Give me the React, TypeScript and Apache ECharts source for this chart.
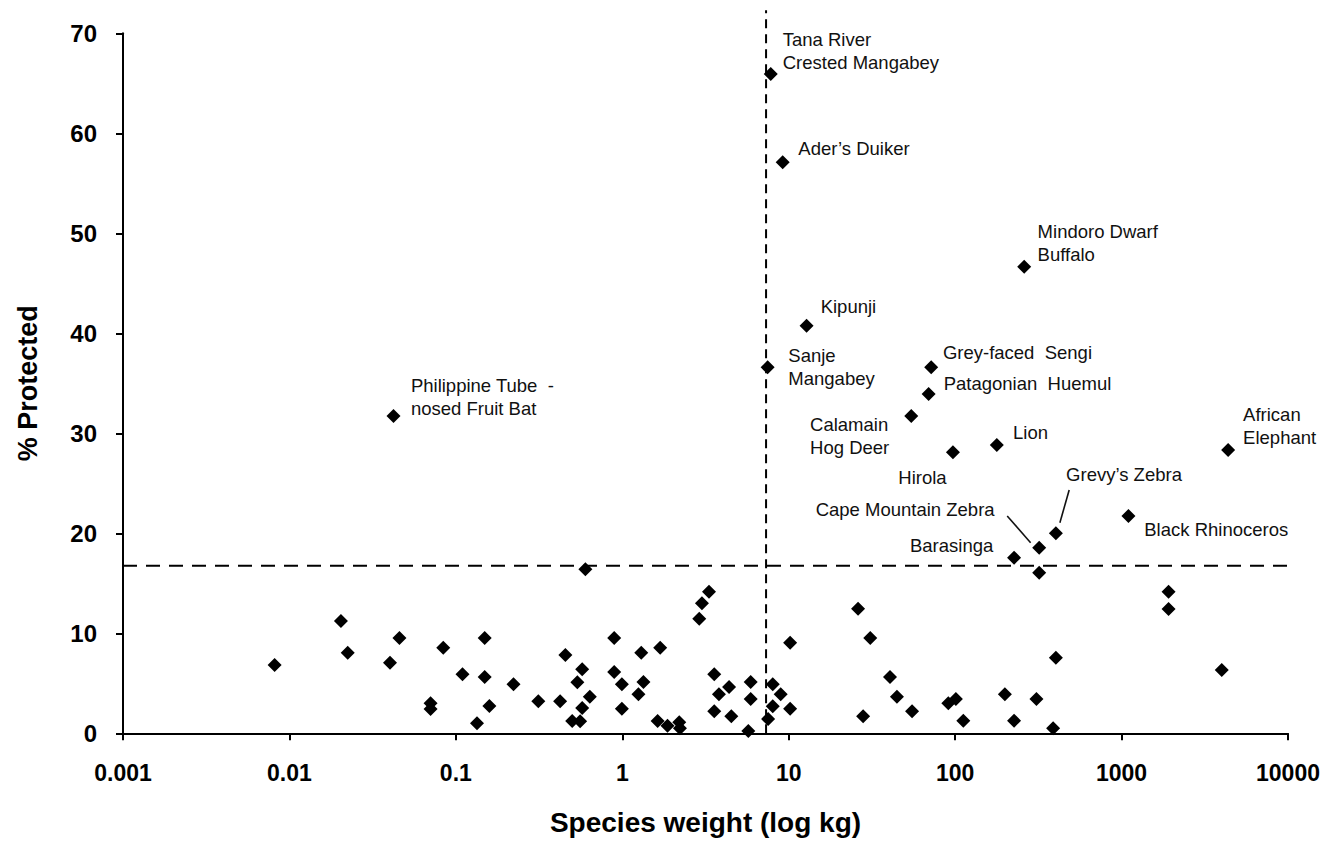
import React, { useEffect, useRef } from "react";
import * as echarts from "echarts";

// ---- tick labels ----
const xTickLabels = ["0.001", "0.01", "0.1", "1", "10", "100", "1000", "10000"];

// ---- unlabelled species (weight kg, % protected) ----
const otherWeights = [
  0.00815, 0.0204, 0.0224, 0.0458, 0.0402, 0.084, 0.1096, 0.149, 0.149, 0.222,
  0.0705, 0.0705, 0.159, 0.134, 0.6, 3.32, 3.01, 2.9, 26.1, 30.9,
  10.2, 0.894, 0.455, 1.3, 1.69, 0.574, 0.537, 0.894, 0.994, 1.34,
  1.25, 0.994, 0.313, 0.423, 0.638, 0.574, 0.5, 0.558, 1.63, 1.87,
  2.2, 2.22, 3.57, 3.81, 4.38, 3.57, 4.52, 5.91, 5.91, 5.72,
  8.02, 8.95, 8.02, 10.2, 7.52, 40.6, 44.7, 55.1, 28.0, 320,
  1916, 1916, 403, 4000, 199, 308, 91, 101, 112, 226,
  388,
];
const otherProtected = [
  6.83, 11.23, 8.06, 9.53, 7.06, 8.56, 5.9, 9.53, 5.63, 4.9,
  3.0, 2.43, 2.73, 1.0, 16.4, 14.16, 13.0, 11.46, 12.46, 9.53,
  9.06, 9.53, 7.83, 8.06, 8.56, 6.4, 5.1, 6.13, 4.9, 5.13,
  3.9, 2.46, 3.2, 3.2, 3.66, 2.53, 1.23, 1.2, 1.23, 0.76,
  1.1, 0.5, 5.9, 3.9, 4.63, 2.2, 1.7, 5.13, 3.43, 0.23,
  4.9, 3.9, 2.7, 2.46, 1.43, 5.63, 3.66, 2.2, 1.7, 16.06,
  14.16, 12.43, 7.56, 6.33, 3.9, 3.43, 3.0, 3.43, 1.26, 1.26,
  0.5,
];

// ---- labelled species ----
const namedSpecies = [
  "Tana River\nCrested Mangabey",
  "Ader\u2019s Duiker",
  "Mindoro Dwarf\nBuffalo",
  "Kipunji",
  "Sanje\nMangabey",
  "Grey-faced  Sengi",
  "Patagonian  Huemul",
  "Calamain\nHog Deer",
  "Lion",
  "Hirola",
  "African\nElephant",
  "Grevy\u2019s Zebra",
  "Cape Mountain Zebra",
  "Black Rhinoceros",
  "Barasinga",
  "Philippine Tube  -\nnosed Fruit Bat",
];
const namedWeights = [7.8, 9.2, 260, 12.8, 7.47, 71.8, 69.3, 54.5, 178, 97, 4366, 403, 320, 1100, 226, 0.0422];
const namedProtected = [65.93, 57.1, 46.66, 40.76, 36.6, 36.6, 33.93, 31.73, 28.83, 28.1, 28.33, 20.0, 18.56, 21.73, 17.56, 31.73];

// ---- thresholds ----
const weightThreshold = 7.31;
const protectedThreshold = 16.76;
const vLineExtent = [0, 72.3];
const hLineExtent = [0.001, 12600];

// ---- label placement (pixel offsets from marker centre) ----
const labelLayout: [number, number, string][] = [
  [12, -23, "left"],
  [15.6, -14, "left"],
  [13.4, -23.7, "left"],
  [14.1, -19.7, "left"],
  [20.7, -0.6, "left"],
  [11.7, -15, "left"],
  [15, -10.7, "left"],
  [-101.2, 20, "left"],
  [16.2, -12.3, "left"],
  [-54.6, 25, "left"],
  [15, -24.5, "left"],
  [10.2, -59, "left"],
  [-44.6, -38.4, "right"],
  [15.8, 13.3, "left"],
  [-20.8, -12.7, "right"],
  [17.4, -19.3, "left"],
];

// leader lines: species index, from offset, to offset (pixels)
const leaderLines: { idx: number; from: [number, number]; to: [number, number] }[] = [
  { idx: 11, from: [13.3, -43.3], to: [4, -10.6] },
  { idx: 12, from: [-32, -31.7], to: [-8.6, -5] },
];

const FONT = '"Liberation Sans", Arial, Helvetica, sans-serif';

export default function App() {
  const ref = useRef<HTMLDivElement>(null);
  useEffect(() => {
    const chart = echarts.init(ref.current as HTMLDivElement, null, { renderer: "svg" });
    chart.setOption({
      animation: false,
      backgroundColor: "#ffffff",
      grid: { left: 123, right: 48, top: 33.3, bottom: 110.7, containLabel: false },
      xAxis: {
        type: "log",
        logBase: 10,
        min: 0.001,
        max: 10000,
        splitNumber: 7,
        axisLine: { show: true, lineStyle: { color: "#000", width: 2 } },
        axisTick: { show: true, inside: false, length: 7, lineStyle: { color: "#000", width: 2 } },
        minorTick: { show: false },
        splitLine: { show: false },
        axisLabel: {
          fontFamily: FONT,
          fontSize: 23,
          fontWeight: "bold",
          color: "#000",
          margin: 28,
          formatter: (v: number) => {
            const i = Math.round(Math.log10(v)) + 3;
            return xTickLabels[i] ?? "";
          },
        },
        name: "Species weight (log kg)",
        nameLocation: "middle",
        nameGap: 75,
        nameTextStyle: { fontFamily: FONT, fontSize: 28, fontWeight: "bold", color: "#000" },
      },
      yAxis: {
        type: "value",
        min: 0,
        max: 70,
        interval: 10,
        axisLine: { show: true, lineStyle: { color: "#000", width: 2 } },
        axisTick: { show: true, inside: false, length: 7, lineStyle: { color: "#000", width: 2 } },
        splitLine: { show: false },
        axisLabel: {
          fontFamily: FONT,
          fontSize: 24,
          fontWeight: "bold",
          color: "#000",
          margin: 26,
        },
        name: "% Protected",
        nameLocation: "middle",
        nameGap: 82,
        nameTextStyle: { fontFamily: FONT, fontSize: 27, fontWeight: "bold", color: "#000" },
      },
      series: [
        {
          type: "line",
          silent: true,
          clip: false,
          symbol: "none",
          z: 1,
          data: [
            [weightThreshold, vLineExtent[0]],
            [weightThreshold, vLineExtent[1]],
          ],
          lineStyle: { color: "#000", width: 2, type: [9, 6] },
        },
        {
          type: "line",
          silent: true,
          clip: false,
          symbol: "none",
          z: 1,
          data: [
            [hLineExtent[0], protectedThreshold],
            [hLineExtent[1], protectedThreshold],
          ],
          lineStyle: { color: "#000", width: 2, type: [14, 9] },
        },
        {
          type: "scatter",
          silent: true,
          symbol: "diamond",
          symbolSize: 14,
          z: 3,
          itemStyle: { color: "#000", opacity: 1 },
          data: otherWeights.map((w, i) => [w, otherProtected[i]]),
        },
        {
          type: "scatter",
          silent: true,
          symbol: "diamond",
          symbolSize: 14,
          z: 3,
          itemStyle: { color: "#000", opacity: 1 },
          data: namedSpecies.map((name, i) => ({
            name,
            value: [namedWeights[i], namedProtected[i]],
            label: {
              show: true,
              formatter: "{b}",
              position: "inside",
              offset: [labelLayout[i][0], labelLayout[i][1]],
              align: labelLayout[i][2],
              verticalAlign: "middle",
              fontFamily: FONT,
              fontSize: 18.5,
              lineHeight: 23,
              color: "#111",
            },
          })),
        },
      ],
    });

    const graphics = leaderLines.map((l) => {
      const p = chart.convertToPixel({ gridIndex: 0 }, [namedWeights[l.idx], namedProtected[l.idx]]) as number[];
      return {
        type: "line",
        silent: true,
        z: 10,
        shape: {
          x1: p[0] + l.from[0],
          y1: p[1] + l.from[1],
          x2: p[0] + l.to[0],
          y2: p[1] + l.to[1],
        },
        style: { stroke: "#111", lineWidth: 1.6 },
      };
    });
    chart.setOption({ graphic: graphics });

    return () => chart.dispose();
  }, []);
  return (
    <div
      ref={ref}
      style={{ position: "absolute", left: 0, top: 0, width: 1336, height: 844 }}
    />
  );
}
